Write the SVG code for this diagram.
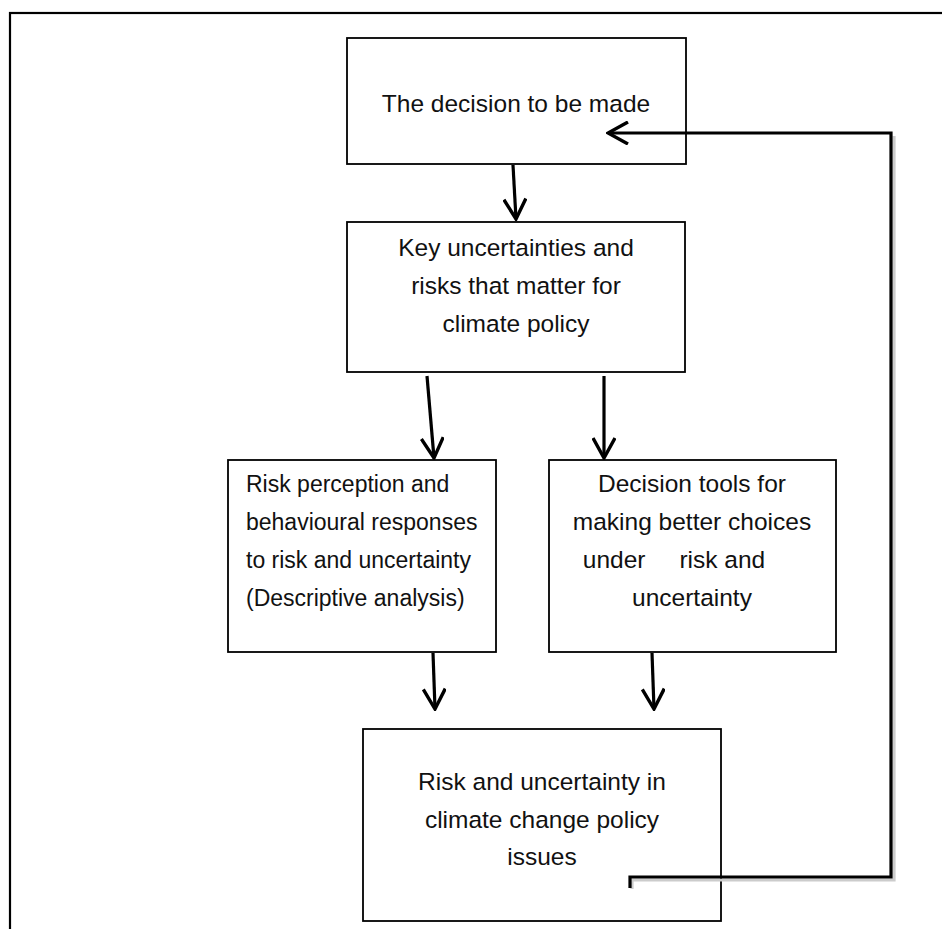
<svg xmlns="http://www.w3.org/2000/svg" width="942" height="929" viewBox="0 0 942 929">
<defs>
<style>
.box{fill:#fff;stroke:#000;stroke-width:1.8}
.t{font-family:"Liberation Sans",Arial,sans-serif;font-size:24.5px;fill:#111}
.s{font-size:23px}
.c{text-anchor:middle}
.con{fill:none;stroke:#000;stroke-width:3.2;stroke-linecap:butt}
.sh{fill:none;stroke:#ccc;stroke-width:3.2}
</style>
<marker id="ah" viewBox="0 0 24 24" refX="22" refY="12" markerWidth="24" markerHeight="24" markerUnits="userSpaceOnUse" orient="auto">
<polyline points="2,1 22,12 2,23" fill="none" stroke="#000" stroke-width="3.4"/>
</marker>
</defs>
<rect x="10" y="13" width="960" height="940" fill="none" stroke="#000" stroke-width="2.2"/>
<g id="n1"><rect class="box" x="347" y="38" width="339" height="126"/><text class="t c" x="516" y="112">The decision to be made</text></g>
<g id="n2"><rect class="box" x="347" y="222" width="338" height="150"/><text class="t c" x="516" y="256">Key uncertainties and</text><text class="t c" x="516" y="294">risks that matter for</text><text class="t c" x="516" y="332">climate policy</text></g>
<g id="n3"><rect class="box" x="228" y="460" width="268" height="192"/><text class="t s" x="246" y="492">Risk perception and</text><text class="t s" x="246" y="530">behavioural responses</text><text class="t s" x="246" y="568">to risk and uncertainty</text><text class="t s" x="246" y="606">(Descriptive analysis)</text></g>
<g id="n4"><rect class="box" x="549" y="460" width="287" height="192"/><text class="t c" x="692" y="492">Decision tools for</text><text class="t c" x="692" y="530">making better choices</text><text class="t c" x="674" y="568" xml:space="preserve">under     risk and</text><text class="t c" x="692" y="606">uncertainty</text></g>
<g id="n5"><rect class="box" x="363" y="729" width="358" height="192"/><text class="t c" x="542" y="790">Risk and uncertainty in</text><text class="t c" x="542" y="828">climate change policy</text><text class="t c" x="542" y="865">issues</text></g>
<g id="connectors">
<line class="con" x1="513" y1="165" x2="516" y2="219" marker-end="url(#ah)"/>
<line class="con" x1="427" y1="376" x2="434" y2="458" marker-end="url(#ah)"/>
<line class="con" x1="604" y1="376" x2="604" y2="458" marker-end="url(#ah)"/>
<line class="con" x1="433" y1="653" x2="435" y2="709" marker-end="url(#ah)"/>
<line class="con" x1="652" y1="653" x2="654" y2="709" marker-end="url(#ah)"/>
<polyline class="sh" points="632,889 632,880 894,880 894,136"/>
<polyline class="con" points="630,888 630,877 891,877 891,133 608,133" stroke-width="4" marker-end="url(#ah)"/>
</g>
</svg>
